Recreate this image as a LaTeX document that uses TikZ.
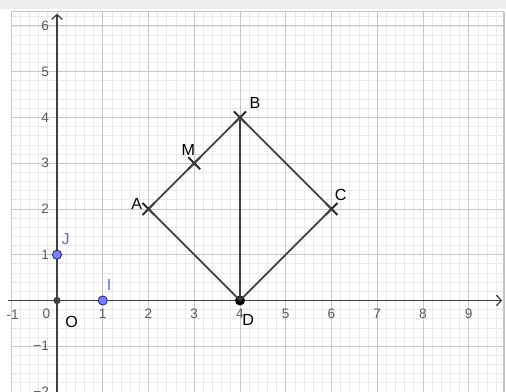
\documentclass[tikz,border=0pt]{standalone}
\usepackage{fontspec}
\setmainfont{Liberation Sans}
\usetikzlibrary{arrows.meta,shapes.misc}
\definecolor{ggDark}{HTML}{404040}
\definecolor{ggBlue}{HTML}{7D7DFF}
\definecolor{ggNavy}{HTML}{202080}
\definecolor{ggLabel}{HTML}{6A6AF0}
\definecolor{ggMajor}{HTML}{C8C8C8}
\definecolor{ggMinor}{HTML}{EAEAEA}
\definecolor{ggTick}{HTML}{5A5A5A}
\begin{document}
\begin{tikzpicture}[
  gridmin/.style={ggMinor, line width=0.5pt},
  gridmaj/.style={ggMajor, line width=0.6pt},
  ax/.style={ggDark, line width=0.8pt, -{Straight Barb[length=3pt,width=6.5pt]}},
  seg/.style={ggDark, line width=1.1pt},
  crs/.style={draw=black!85, cross out, line width=1.2pt, minimum size=0.22cm, inner sep=0pt},
  dot/.style={circle, fill=black, inner sep=0pt, minimum size=0.22cm},
  unitpt/.style={circle, draw=ggNavy, fill=ggBlue, line width=0.5pt, inner sep=0pt, minimum size=0.2cm},
  num/.style={font=\fontsize{8.5}{10}\selectfont, text=ggTick, inner sep=0pt},
  lbl/.style={font=\fontsize{10}{12}\selectfont, inner sep=0pt},
  blbl/.style={lbl, text=ggLabel}]
\useasboundingbox (-1.246,-2.0) rectangle (9.814,6.568);
% window frame
\fill[gray!14] (-1.246,6.37) rectangle (9.814,6.568);
\draw[gridmin, step=0.2] (-1,-2.0) grid (9.77,6.306);
\draw[gridmaj, step=1] (-1,-2.0) grid (9.77,6.306);
\draw[gray!45, line width=0.6pt] (-1,6.306) -- (9.77,6.306);
\draw[gray!45, line width=1.2pt] (9.77,-2.0) -- (9.77,6.306);
% axes
\coordinate (xs) at (-1.07,0);
\coordinate (xe) at (9.73,0);
\coordinate (ys) at (0,-2.0);
\coordinate (ye) at (0,6.27);
\draw[ax] (xs) -- (xe);
\draw[ax] (ys) -- (ye);
\foreach \x in {1,...,9}{
  \node[num] at (\x,-0.29) {\x};
}
\node[num] at (-0.97,-0.31) {-1};
\node[num] at (-0.23,-0.29) {0};
\foreach \y in {1,...,6}{
  \node[num, anchor=east] at (-0.17,\y) {\y};
}
\node[num, anchor=east] at (-0.17,-1) {−1};
\node[num, anchor=east] at (-0.17,-2) {−2};
% the square ABCD
\node[crs] (A) at (2,2) {};
\node[crs] (B) at (4,4) {};
\node[crs] (C) at (6,2) {};
\node[crs] (M) at (3,3) {};
\draw[seg] (A.center) -- (B.center) -- (C.center);
\node[dot] (D) at (4,0) {};
\draw[seg] (C.center) -- (D.center) -- (A.center);
\draw[seg] (B.center) -- (D.center);
% unit points
\node[circle, fill=ggDark, inner sep=0pt, minimum size=0.16cm] (O) at (0,0) {};
\node[unitpt] (I) at (1,0) {};
\node[unitpt] (J) at (0,1) {};
% names
\node[lbl] (Alab) at (1.74,2.12) {A};
\node[lbl] (Blab) at (4.33,4.31) {B};
\node[lbl] (Clab) at (6.20,2.31) {C};
\node[lbl] (Mlab) at (2.87,3.30) {M};
\node[lbl] (Dlab) at (4.18,-0.43) {D};
\node[lbl] (Olab) at (0.32,-0.46) {O};
\node[blbl] (Ilab) at (1.14,0.34) {I};
\node[blbl] (Jlab) at (0.19,1.34) {J};
\end{tikzpicture}
\end{document}
